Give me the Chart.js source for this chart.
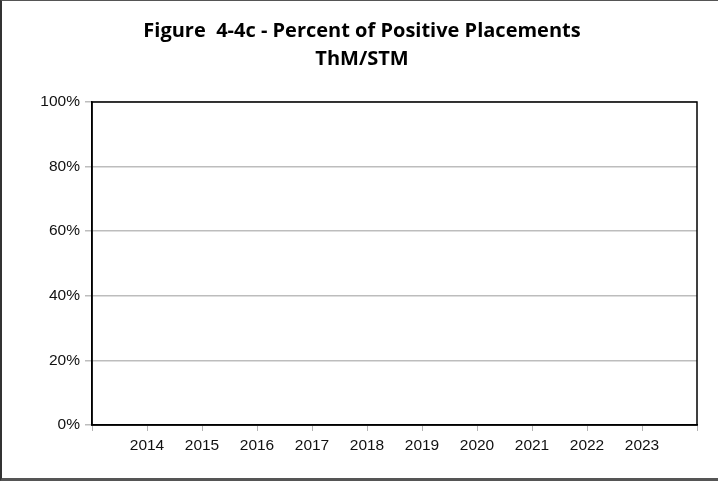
<!DOCTYPE html>
<html>
<head>
<meta charset="utf-8">
<script src="https://cdn.jsdelivr.net/npm/chart.js@4/dist/chart.umd.min.js"></script>
<style>
  html, body { margin: 0; padding: 0; background: #fff; }
  #wrap { position: relative; width: 718px; height: 481px; }
  #c { position: absolute; left: 0; top: 0; }
  #title { position: absolute; left: 0; top: 16px; width: 724px; text-align: center;
           font-family: 'Open Sans', sans-serif; font-weight: bold; font-size: 20px; line-height: 28px; color: #000;
           white-space: pre; }
  #frame { position: absolute; left: 0; top: 0; width: 718px; height: 481px; box-sizing: border-box;
           border-top: 1px solid #555; border-left: 2px solid #333; border-bottom: 3px solid #555; pointer-events: none; }
</style>
</head>
<body>
<div id="wrap">
  <canvas id="c" width="718" height="481"></canvas>
  <div id="title"></div>
  <div id="frame"></div>
</div>
<script>
const titleLines = ['Figure  4-4c - Percent of Positive Placements', 'ThM/STM'];
const categories = ['', '2014', '2015', '2016', '2017', '2018', '2019', '2020', '2021', '2022', '2023', ''];
const positivePct = [null, null, null, null, null, null, null, null, null, null, null, null];
const yTicks = [0, 20, 40, 60, 80, 100];

document.getElementById('title').textContent = titleLines.join('\n');

const plotBorder = {
  id: 'plotBorder',
  afterDraw(chart) {
    const a = chart.chartArea, ctx = chart.ctx;
    ctx.save();
    ctx.strokeStyle = '#000';
    ctx.lineWidth = 1.5;
    ctx.strokeRect(a.left, a.top, a.right - a.left, a.bottom - a.top);
    ctx.restore();
  }
};

new Chart(document.getElementById('c'), {
  type: 'line',
  data: {
    labels: categories,
    datasets: [{ label: 'Percent positive', data: positivePct, borderColor: '#000', pointRadius: 0 }]
  },
  options: {
    responsive: false,
    animation: false,
    layout: { padding: { left: 0, right: 21, top: 102, bottom: 0 } },
    plugins: {
      legend: { display: false },
      tooltip: { enabled: false },
      title: { display: false }
    },
    scales: {
      x: {
        offset: false,
        grid: { display: true, drawOnChartArea: false, drawTicks: true, tickLength: 6, color: '#b4b4b4' },
        border: { display: true, color: '#000', width: 1.5 },
        ticks: { color: '#111', font: { family: 'Liberation Sans', size: 15.5 }, padding: 5, maxRotation: 0, autoSkip: false },
        afterFit(s) { s.height = 56; }
      },
      y: {
        min: 0, max: 100,
        afterBuildTicks(s) { s.ticks = yTicks.map(v => ({ value: v })); },
        grid: { color: '#bdbdbd', lineWidth: 1.5, tickLength: 7 },
        border: { display: true, color: '#000', width: 1.5 },
        ticks: { color: '#111', font: { family: 'Liberation Sans', size: 15.5 }, padding: 5, callback: v => v + '%' },
        afterFit(s) { s.width = 92; }
      }
    }
  },
  plugins: [plotBorder]
});
</script>
</body>
</html>
